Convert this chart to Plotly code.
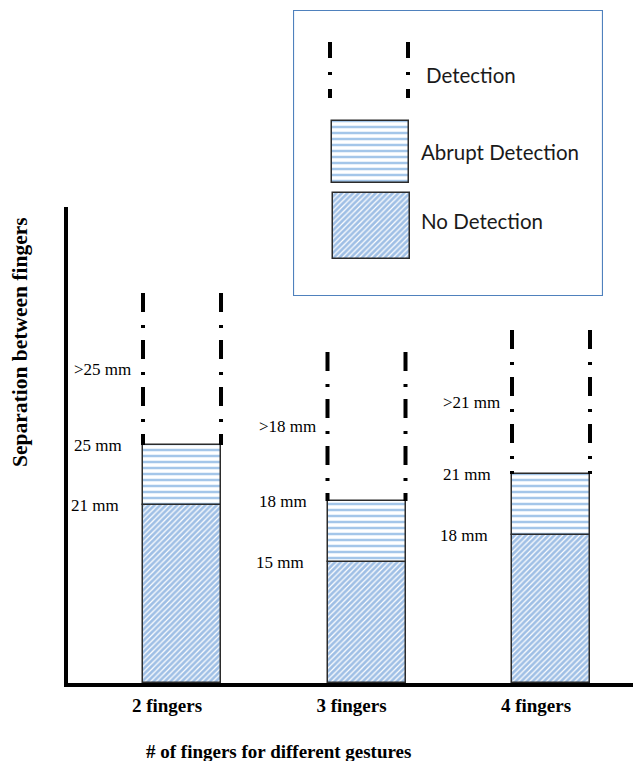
import plotly.graph_objects as go

# ---- data (the original drawing is schematic, so heights are drawn heights, labels carry the mm values)
categories = ["2 fingers", "3 fingers", "4 fingers"]
no_detection_h = [178, 121, 148]      # drawn height of "No Detection" block
abrupt_h = [60, 61, 61]               # drawn height of "Abrupt Detection" block
detection_h = [152, 149, 144]         # drawn extent of dash-dot "Detection" zone
no_detection_mm = ["21 mm", "15 mm", "18 mm"]
abrupt_mm = ["25 mm", "18 mm", "21 mm"]
detection_mm = [">25 mm", ">18 mm", ">21 mm"]
legend_labels = ["Detection", "Abrupt Detection", "No Detection"]

# ---- styles / layout helpers (page body has an 8px margin)
OFF = 8
W, H = 641 - OFF, 761 - OFF


def fx(px):
    return (px - OFF) / W


def fy(py):
    return 1 - (py - OFF) / H


BLUE = "#3F80CC"
EDGE = "#2b2b2b"
SERIF = "Liberation Serif, Times New Roman, serif"
SANS = "Lato, Calibri, sans-serif"
BW = 0.4228
DASH_MAIN = "19px,13px,3px,12px"
DASH_LEG = "16px,14px,3px,14px"
DIAG = dict(shape="/", fgcolor=BLUE, bgcolor="white", size=4, solidity=0.7)
HORZ = dict(shape="-", fgcolor="#4A8DD4", bgcolor="white", size=6, solidity=0.42)

x = list(range(len(categories)))
abrupt_top = [a + b for a, b in zip(no_detection_h, abrupt_h)]
detect_top = [a + b for a, b in zip(abrupt_top, detection_h)]

fig = go.Figure()

fig.add_trace(go.Bar(
    x=x, y=no_detection_h, base=[0] * len(x), width=BW,
    marker=dict(color="white", line=dict(color=EDGE, width=1.5), pattern=DIAG),
    hoverinfo="skip", showlegend=False))
fig.add_trace(go.Bar(
    x=x, y=abrupt_h, base=no_detection_h, width=BW,
    marker=dict(color="white", line=dict(color=EDGE, width=1.5), pattern=HORZ),
    hoverinfo="skip", showlegend=False))

for i in x:
    for side in (-1, 1):
        fig.add_trace(go.Scatter(
            x=[i + side * BW / 2] * 2, y=[detect_top[i], abrupt_top[i]],
            mode="lines", line=dict(color="black", width=4, dash=DASH_MAIN),
            hoverinfo="skip", showlegend=False))

LBL = dict(family=SERIF, size=17, color="black")
ann = []
for i in x:
    ann.append(dict(x=i - BW / 2, y=abrupt_top[i] + detection_h[i] / 2, text=detection_mm[i],
                    xanchor="right", yanchor="middle", xshift=-10, showarrow=False, font=LBL))
    ann.append(dict(x=i - BW / 2, y=abrupt_top[i], text=abrupt_mm[i],
                    xanchor="right", yanchor="middle", xshift=-19, showarrow=False, font=LBL))
    ann.append(dict(x=i - BW / 2, y=no_detection_h[i], text=no_detection_mm[i],
                    xanchor="right", yanchor="middle", xshift=-22, showarrow=False, font=LBL))

# axis titles
ann.append(dict(xref="paper", yref="paper", x=fx(278), y=fy(751),
                text="# of fingers for different gestures", showarrow=False,
                xanchor="center", yanchor="middle",
                font=dict(family=SERIF, size=19, color="black", weight="bold")))
ann.append(dict(xref="paper", yref="paper", x=fx(20), y=fy(342),
                text="Separation between fingers", showarrow=False, textangle=-90,
                xanchor="center", yanchor="middle",
                font=dict(family=SERIF, size=21.5, color="black", weight="bold")))

# ---- legend (drawn in its own little axes, in pixel-like units)
fig.add_trace(go.Bar(
    x=[370.5], y=[62], base=[121], width=77, xaxis="x2", yaxis="y2",
    marker=dict(color="white", line=dict(color=EDGE, width=1.5), pattern=HORZ),
    hoverinfo="skip", showlegend=False))
fig.add_trace(go.Bar(
    x=[371.5], y=[66], base=[193], width=77, xaxis="x2", yaxis="y2",
    marker=dict(color="white", line=dict(color=EDGE, width=1.5), pattern=DIAG),
    hoverinfo="skip", showlegend=False))
for lx in (330, 408):
    fig.add_trace(go.Scatter(
        x=[lx, lx], y=[42, 98], xaxis="x2", yaxis="y2", mode="lines",
        line=dict(color="black", width=4, dash=DASH_LEG),
        hoverinfo="skip", showlegend=False))

for txt, lx, ly in zip(legend_labels, (424, 419, 419), (75, 152, 221)):
    ann.append(dict(xref="x2", yref="y2", x=lx, y=ly, text=txt, showarrow=False,
                    xanchor="left", yanchor="middle",
                    font=dict(family=SANS, size=20.5, color="#1a1a1a")))

fig.update_layout(
    width=W, height=H,
    margin=dict(l=0, r=0, t=0, b=0, pad=0),
    paper_bgcolor="white", plot_bgcolor="white",
    barmode="overlay", bargap=0,
    xaxis=dict(domain=[fx(68), 1], range=[-0.6179, 2.4878],
               showline=True, linewidth=4, linecolor="black",
               tickvals=x, ticktext=categories, ticks="",
               ticklabelshift=-15, ticklabelstandoff=2,
               tickfont=dict(family=SERIF, size=19, color="black", weight="bold"),
               showgrid=False, zeroline=False, fixedrange=True),
    yaxis=dict(domain=[fy(683), fy(207)], range=[0, 476],
               showline=True, linewidth=4, linecolor="black",
               showticklabels=False, ticks="", showgrid=False, zeroline=False, fixedrange=True),
    xaxis2=dict(domain=[fx(293), fx(603)], range=[293, 603], anchor="y2", visible=False),
    yaxis2=dict(domain=[fy(296), fy(10)], range=[296, 10], anchor="x2", visible=False),
    shapes=[dict(type="rect", xref="x2", yref="y2", x0=293.5, x1=602.5, y0=10.5, y1=295.5,
                 line=dict(color="#4F81BD", width=1.2), layer="below")],
    annotations=ann,
)

fig.write_html("out.html")
